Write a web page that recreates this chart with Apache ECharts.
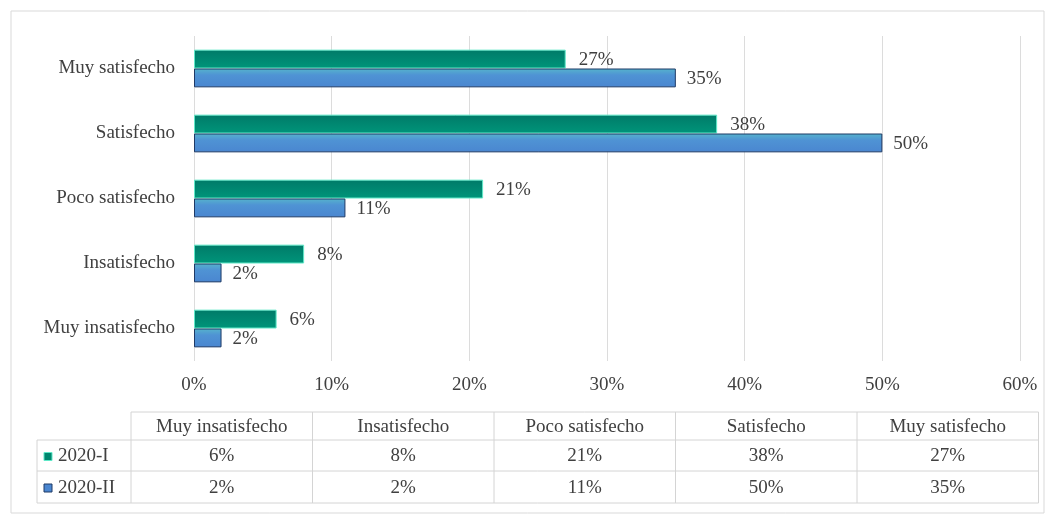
<!DOCTYPE html>
<html><head><meta charset="utf-8">
<script src="https://cdn.jsdelivr.net/npm/echarts@6/dist/echarts.min.js"></script>
<style>html,body{margin:0;padding:0;background:#fff}#c{width:1055px;height:527px}</style>
</head><body><div id="c"></div>
<script>
const categories = ['Muy insatisfecho','Insatisfecho','Poco satisfecho','Satisfecho','Muy satisfecho'];
const seriesNames = ['2020-I','2020-II'];
const values2020I = [6, 8, 21, 38, 27];
const values2020II = [2, 2, 11, 50, 35];
const xTicks = [0,10,20,30,40,50,60];

const FONT = 'Liberation Serif';
const FS = 19;
const TXT = '#404040';
const LINE = '#d4d4d4';
const tealFill = new echarts.graphic.LinearGradient(0,0,0,1,[{offset:0,color:'#007a68'},{offset:1,color:'#00957a'}]);
const blueFill = new echarts.graphic.LinearGradient(0,0,0,1,[{offset:0,color:'#56b4cc'},{offset:0.35,color:'#4f93d4'},{offset:1,color:'#4a86d0'}]);

const chart = echarts.init(document.getElementById('c'));

const tblLeft = 131, colW = 181.5, legLeft = 37;
const rowY = [412, 440, 471, 503];
const g = [];
g.push({type:'rect', shape:{x:11,y:11,width:1033,height:502}, style:{fill:'none', stroke:'#d9d9d9', lineWidth:1}, silent:true});
g.push({type:'line', shape:{x1:tblLeft,y1:rowY[0],x2:tblLeft+5*colW,y2:rowY[0]}, style:{stroke:LINE}});
for (let i=1;i<4;i++) g.push({type:'line', shape:{x1:legLeft,y1:rowY[i],x2:tblLeft+5*colW,y2:rowY[i]}, style:{stroke:LINE}});
g.push({type:'line', shape:{x1:legLeft,y1:rowY[1],x2:legLeft,y2:rowY[3]}, style:{stroke:LINE}});
for (let c=0;c<=5;c++) g.push({type:'line', shape:{x1:tblLeft+c*colW,y1:rowY[0],x2:tblLeft+c*colW,y2:rowY[3]}, style:{stroke:LINE}});
categories.forEach((cat,i)=>{
  g.push({type:'text', x:tblLeft+i*colW+colW/2, y:(rowY[0]+rowY[1])/2+1, style:{text:cat, fill:TXT, font:FS+'px "'+FONT+'"', align:'center', verticalAlign:'middle'}});
});
const rows = [values2020I, values2020II];
rows.forEach((vals,r)=>{
  const cy = (rowY[r+1]+rowY[r+2])/2+1;
  vals.forEach((v,i)=>{
    g.push({type:'text', x:tblLeft+i*colW+colW/2, y:cy, style:{text:v+'%', fill:TXT, font:FS+'px "'+FONT+'"', align:'center', verticalAlign:'middle'}});
  });
  g.push({type:'rect', shape:{x:44,y:cy-4,width:8,height:8}, style:{fill: r===0?'#00876f':'#4a86d0', stroke: r===0?'#5fe8c8':'#1f3a66', lineWidth:1}});
  g.push({type:'text', x:58, y:cy, style:{text:seriesNames[r], fill:TXT, font:FS+'px "'+FONT+'"', align:'left', verticalAlign:'middle'}});
});

const option = {
  animation:false,
  backgroundColor:'#fff',
  grid:{left:194, right:35, top:36, bottom:166},
  xAxis:{type:'value', min:xTicks[0], max:xTicks[xTicks.length-1], interval:xTicks[1]-xTicks[0],
    axisLabel:{formatter:v=>v+'%', color:TXT, fontFamily:FONT, fontSize:FS, margin:15},
    axisLine:{show:false}, axisTick:{show:false},
    splitLine:{lineStyle:{color:'#dcdcdc'}}},
  yAxis:{type:'category', data:categories,
    axisLabel:{color:TXT, fontFamily:FONT, fontSize:FS, margin:19},
    axisLine:{show:false}, axisTick:{show:false}},
  series:[
    {name:seriesNames[0], type:'bar', data:values2020I, barGap:'0%', barCategoryGap:'42%',
     itemStyle:{color:tealFill, borderColor:'#5fe8c8', borderWidth:1},
     label:{show:true, position:'right', distance:13, offset:[0,1], formatter:p=>p.value+'%', color:TXT, fontFamily:FONT, fontSize:FS}},
    {name:seriesNames[1], type:'bar', data:values2020II, barGap:'0%', barCategoryGap:'42%',
     itemStyle:{color:blueFill, borderColor:'#1f3a66', borderWidth:1},
     label:{show:true, position:'right', distance:11, offset:[0,1], formatter:p=>p.value+'%', color:TXT, fontFamily:FONT, fontSize:FS}}
  ],
  graphic:g
};
chart.setOption(option);
</script></body></html>
